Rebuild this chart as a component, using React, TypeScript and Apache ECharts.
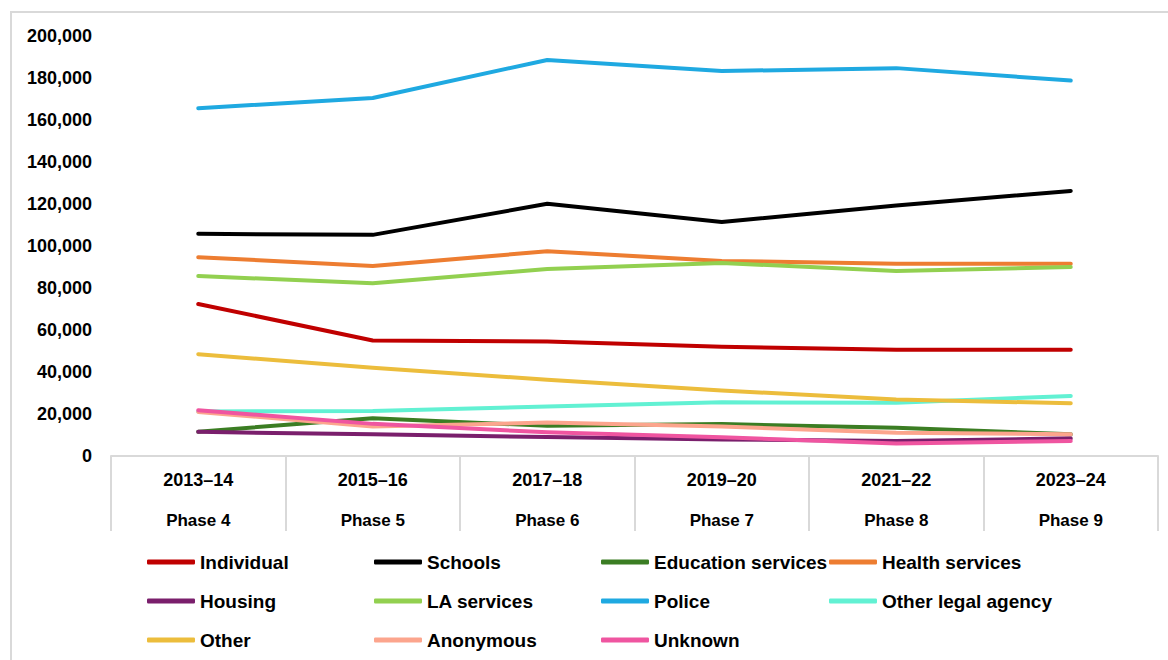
import React, { useEffect, useRef } from "react";
import * as echarts from "echarts";

const years = ["2013–14", "2015–16", "2017–18", "2019–20", "2021–22", "2023–24"];
const phases = ["Phase 4", "Phase 5", "Phase 6", "Phase 7", "Phase 8", "Phase 9"];

const individual = [72400, 55000, 54500, 52000, 50600, 50600];
const schools = [105800, 105300, 120100, 111400, 119300, 126200];
const educationServices = [11600, 18000, 14400, 15200, 13500, 10300];
const healthServices = [94700, 90500, 97500, 92900, 91500, 91500];
const housing = [11500, 10300, 9000, 7900, 7100, 8400];
const laServices = [85700, 82300, 89000, 91900, 88100, 90000];
const police = [165600, 170500, 188600, 183300, 184700, 178800];
const otherLegalAgency = [21200, 21400, 23600, 25600, 25300, 28600];
const other = [48500, 42000, 36300, 31200, 26900, 25100];
const anonymous = [21000, 14000, 15900, 14000, 11100, 10300];
const unknown = [21800, 15300, 11300, 8900, 6000, 7100];

const seriesNames = [
  "Individual", "Schools", "Education services", "Health services",
  "Housing", "LA services", "Police", "Other legal agency",
  "Other", "Anonymous", "Unknown",
];
const seriesValues = [
  individual, schools, educationServices, healthServices,
  housing, laServices, police, otherLegalAgency,
  other, anonymous, unknown,
];
const seriesColors = [
  "#C00000", "#000000", "#3B7D23", "#ED7D31",
  "#7A1F6C", "#92D050", "#1FA9E1", "#62F1D3",
  "#ECBD3C", "#FCA58D", "#EF55A0",
];

const legendColumns = [
  ["Individual", "Housing", "Other"],
  ["Schools", "LA services", "Anonymous"],
  ["Education services", "Police", "Unknown"],
  ["Health services", "Other legal agency"],
];

const FONT = "'Liberation Sans', Arial, sans-serif";

export default function App() {
  const ref = useRef<HTMLDivElement>(null);
  useEffect(() => {
    document.body.style.margin = "0";
    const chart = echarts.init(ref.current!, null, { renderer: "svg" });
    const legendLefts = [147, 374, 601, 829];
    chart.setOption({
      animation: false,
      backgroundColor: "#ffffff",
      textStyle: { fontFamily: FONT },
      grid: { left: 111, right: 10, top: 36, bottom: 204, containLabel: false },
      graphic: [
        {
          type: "rect",
          shape: { x: 11, y: 12, width: 1170, height: 660 },
          style: { fill: "none", stroke: "#d9d9d9", lineWidth: 2 },
          silent: true,
        },
      ],
      legend: legendColumns.map((col, i) => ({
        orient: "vertical",
        left: legendLefts[i],
        top: 552,
        height: 110,
        padding: 0,
        itemGap: 19,
        itemWidth: 48,
        itemHeight: 5,
        itemTextGap: 3,
        icon: "roundRect",
        data: col,
        textStyle: {
          fontFamily: FONT,
          fontWeight: "bold",
          fontSize: 19,
          color: "#000",
          lineHeight: 20,
        },
        selectedMode: false,
      })),
      xAxis: {
        type: "category",
        data: years,
        boundaryGap: true,
        axisLine: { show: true, lineStyle: { color: "#d9d9d9", width: 2 } },
        axisTick: {
          show: true,
          interval: 0,
          length: 75,
          lineStyle: { color: "#d9d9d9", width: 2 },
        },
        axisLabel: {
          interval: 0,
          margin: 4,
          formatter: (v: string, i: number) => `{y|${v}}\n{p|${phases[i]}}`,
          rich: {
            y: { fontFamily: FONT, fontWeight: "bold", fontSize: 18, lineHeight: 40, color: "#000" },
            p: { fontFamily: FONT, fontWeight: "bold", fontSize: 17, lineHeight: 40, color: "#000" },
          },
        },
      },
      yAxis: {
        type: "value",
        min: 0,
        max: 200000,
        interval: 20000,
        splitLine: { show: false },
        axisLine: { show: false },
        axisTick: { show: false },
        axisLabel: {
          margin: 19,
          fontFamily: FONT,
          fontWeight: "bold",
          fontSize: 18,
          color: "#000",
          formatter: (v: number) => v.toLocaleString("en-US"),
        },
      },
      series: seriesNames.map((name, i) => ({
        name,
        type: "line",
        data: seriesValues[i],
        color: seriesColors[i],
        showSymbol: false,
        symbol: "none",
        lineStyle: { width: 4, color: seriesColors[i], cap: "round", join: "round" },
        emphasis: { disabled: true },
      })),
    });
    return () => chart.dispose();
  }, []);
  return <div ref={ref} style={{ width: 1168, height: 660 }} />;
}
